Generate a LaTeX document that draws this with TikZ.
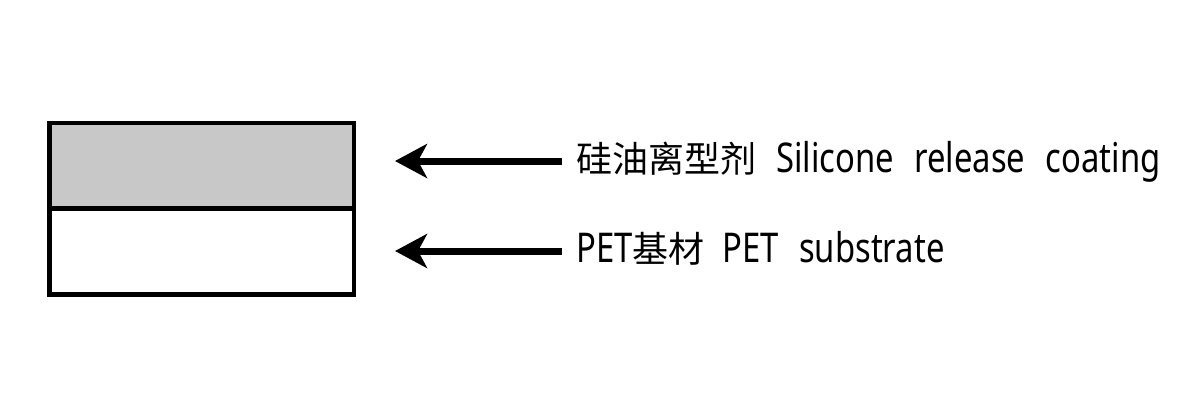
\documentclass[tikz,border=0pt]{standalone}
\usepackage{fontspec}
\usetikzlibrary{arrows.meta}
\newfontfamily\cjkfont{Noto Sans CJK SC}
\newfontfamily\latfont[FakeStretch=0.8,WordSpace=2.4]{Noto Sans}
\newcommand{\lat}[1]{{\latfont\fontsize{41pt}{42pt}\selectfont #1}}
\definecolor{coatgray}{HTML}{C8C8C8}
\tikzset{
  layerline/.style={line width=4.5pt, black},
  layerarrow/.style={line width=7pt, -{Stealth[length=32pt,width=34pt,inset=9pt]}},
  layerlabel/.style={anchor=west, inner xsep=14pt, inner ysep=0pt,
    text height=22pt, text depth=0pt,
    font=\cjkfont\fontsize{36pt}{38pt}\selectfont}
}
\begin{document}
\begin{tikzpicture}[x=1pt,y=-1pt]
\useasboundingbox (0,0) rectangle (1200,400);
% layers
\draw[layerline, fill=coatgray] (49.5,123) rectangle (354,208.5);
\draw[layerline, fill=white] (49.5,208.5) rectangle (354,294.5);
% labels
\node[layerlabel] (coatlabel) at (562,161) {硅油离型剂\hspace{20pt}\lat{Silicone release coating}};
\node[layerlabel] (baselabel) at (562,251) {\lat{PET}基材\hspace{18pt}\lat{PET substrate}};
\coordinate (coattip) at (395,161);
\coordinate (basetip) at (395,251);
% arrows
\draw[layerarrow] (coatlabel.west) -- (coattip);
\draw[layerarrow] (baselabel.west) -- (basetip);
\end{tikzpicture}
\end{document}
